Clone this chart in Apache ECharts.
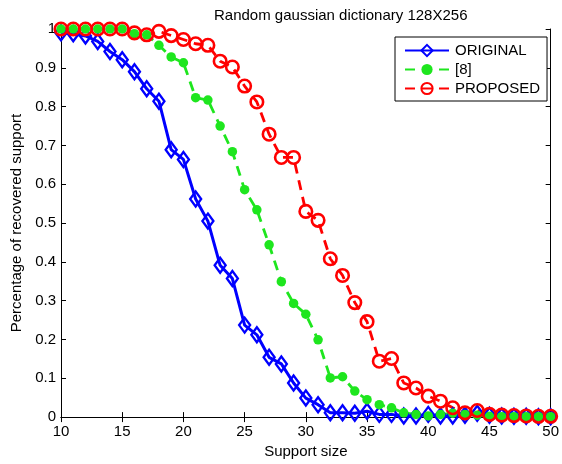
<!DOCTYPE html>
<html>
<head>
<meta charset="utf-8">
<script src="https://cdn.jsdelivr.net/npm/echarts@6/dist/echarts.min.js"></script>
<style>
html,body{margin:0;padding:0;background:#fff;}
#chart{width:562px;height:464px;}
</style>
</head>
<body>
<div id="chart"></div>
<script>
const supportSize = [10,11,12,13,14,15,16,17,18,19,20,21,22,23,24,25,26,27,28,29,30,31,32,33,34,35,36,37,38,39,40,41,42,43,44,45,46,47,48,49,50];
const original = [0.99,0.988,0.982,0.968,0.942,0.921,0.89,0.846,0.814,0.689,0.664,0.562,0.505,0.391,0.357,0.237,0.212,0.154,0.137,0.088,0.049,0.032,0.011,0.011,0.01,0.015,0.007,0.007,0.003,0.003,0.007,0.003,0.003,0.005,0.01,0.005,0.003,0.002,0.002,0.001,0.001];
const ref8 = [1,1,1,1,1,1,0.988,0.985,0.958,0.928,0.913,0.823,0.817,0.75,0.684,0.586,0.534,0.444,0.349,0.293,0.265,0.199,0.101,0.104,0.067,0.045,0.032,0.024,0.011,0.007,0.003,0.007,0.01,0.007,0.005,0.002,0.001,0.001,0.001,0.001,0.001];
const proposed = [1,1,1,1,1,1,0.99,0.985,0.994,0.983,0.973,0.962,0.958,0.917,0.902,0.853,0.812,0.729,0.669,0.669,0.53,0.507,0.408,0.365,0.295,0.246,0.144,0.151,0.088,0.075,0.054,0.041,0.024,0.011,0.017,0.007,0.005,0.004,0.003,0.002,0.002];
const seriesNames = ['ORIGINAL','[8]','PROPOSED'];
const titleText = 'Random gaussian dictionary 128X256';
const xName = 'Support size';
const yName = 'Percentage of recovered support';

const FONT = 'Liberation Sans, Arial, sans-serif';
const pairs = arr => supportSize.map((x,i)=>[x,arr[i]]);

const chart = echarts.init(document.getElementById('chart'));
const axisCommon = {
  axisLine:{show:true,lineStyle:{color:'#000',width:1}},
  axisTick:{show:true,inside:true,length:5,lineStyle:{color:'#000'}},
  splitLine:{show:false}
};
chart.setOption({
  backgroundColor:'#fff',
  animation:false,
  title:{text:titleText,left:209,top:3,textStyle:{fontFamily:FONT,fontSize:15,fontWeight:'normal',color:'#000'}},
  grid:{left:61,right:7,top:29,bottom:45},
  legend:{
    orient:'vertical',left:395,top:37,
    backgroundColor:'#fff',borderColor:'#000',borderWidth:1,
    padding:[6,7,5,9],itemWidth:44,itemHeight:14,itemGap:4,
    textStyle:{fontFamily:FONT,fontSize:15,color:'#000',lineHeight:14,padding:[0,0,0,1]},
    data:seriesNames
  },
  xAxis:[
    Object.assign({type:'value',min:10,max:50,interval:5,position:'bottom',
      name:xName,nameLocation:'middle',nameGap:21,
      nameTextStyle:{fontFamily:FONT,fontSize:15,color:'#000'},
      axisLabel:{fontFamily:FONT,fontSize:15,color:'#000',margin:7}},axisCommon),
    Object.assign({type:'value',min:10,max:50,interval:5,position:'top',axisLabel:{show:false}},axisCommon)
  ],
  yAxis:[
    Object.assign({type:'value',min:0,max:1,interval:0.1,position:'left',
      name:yName,nameLocation:'middle',nameGap:33,
      nameTextStyle:{fontFamily:FONT,fontSize:15,color:'#000'},
      axisLabel:{fontFamily:FONT,fontSize:15,color:'#000',margin:5}},axisCommon),
    Object.assign({type:'value',min:0,max:1,interval:0.1,position:'right',axisLabel:{show:false}},axisCommon)
  ],
  series:[
    {name:seriesNames[0],type:'line',data:pairs(original),clip:false,
      symbol:'diamond',symbolSize:[11,15],
      itemStyle:{color:'rgba(0,0,255,0)',borderColor:'#0000ff',borderWidth:2.4},
      lineStyle:{color:'#0000ff',width:3,type:'solid'}},
    {name:seriesNames[1],type:'line',data:pairs(ref8),clip:false,
      symbol:'circle',symbolSize:9.5,
      itemStyle:{color:'#1ee61e',borderColor:'#1ee61e',borderWidth:0},
      lineStyle:{color:'#1ee61e',width:2.8,type:[10,7]}},
    {name:seriesNames[2],type:'line',data:pairs(proposed),clip:false,
      symbol:'circle',symbolSize:12.5,
      itemStyle:{color:'rgba(255,0,0,0)',borderColor:'#ff0000',borderWidth:2.6},
      lineStyle:{color:'#ff0000',width:2.8,type:[10,7]}}
  ]
});
</script>
</body>
</html>
